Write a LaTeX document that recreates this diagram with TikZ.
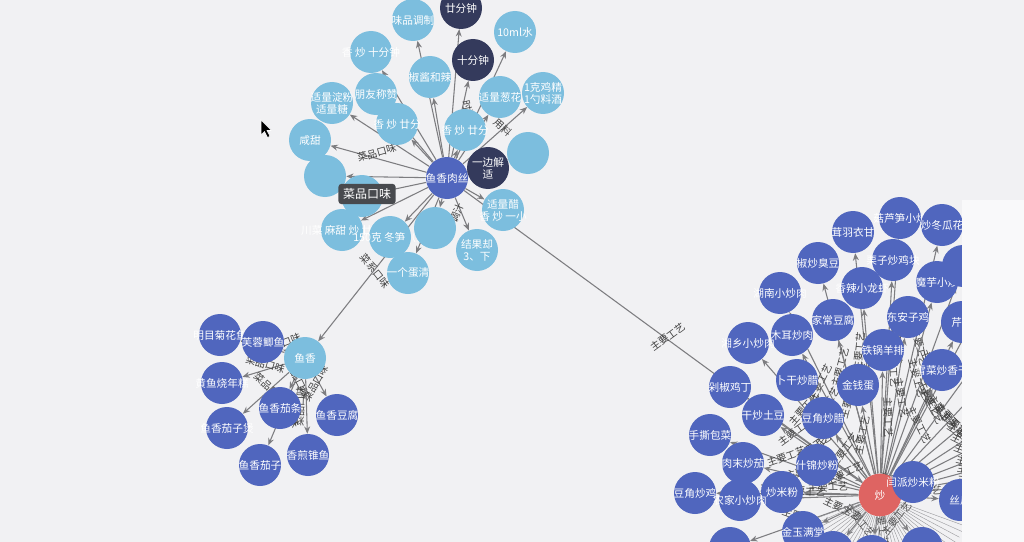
\documentclass[tikz,border=0pt]{standalone}
\usepackage{fontspec}
\setmainfont{Noto Sans CJK SC}
\usetikzlibrary{arrows.meta}

\definecolor{bgGray}{RGB}{241,241,243}
\definecolor{lightBlue}{RGB}{124,190,222}
\definecolor{dishBlue}{RGB}{80,102,190}
\definecolor{navyBlue}{RGB}{52,58,92}
\definecolor{fryRed}{RGB}{222,100,98}
\definecolor{edgeGray}{RGB}{125,125,128}
\definecolor{tipGray}{RGB}{72,74,78}

\pgfdeclarelayer{edgelayer}
\pgfsetlayers{edgelayer,main}

\tikzset{
  ball/.style={circle, inner sep=0pt, minimum size=31.5pt,
    label={[text=white, font=\fontsize{8}{9}\selectfont, align=center]center:#1}},
  lightball/.style={ball={#1}, fill=lightBlue},
  dishball/.style={ball={#1}, fill=dishBlue},
  timeball/.style={ball={#1}, fill=navyBlue},
  link/.style={draw=edgeGray, line width=0.8pt, -{Stealth[length=5.5pt,width=4.5pt]}},
  linktext/.style={font=\fontsize{7.5}{8}\selectfont, text=black!75, sloped, inner sep=1pt},
  tipbox/.style={fill=tipGray, rounded corners=2.5pt, text=white, inner sep=3.5pt,
    font=\fontsize{9}{10}\selectfont},
}

\begin{document}
\begin{tikzpicture}[x=0.75pt,y=0.75pt,yscale=-1,xscale=1]
\useasboundingbox (0,0) rectangle (1024,542);

%Recipe graph: dish in the middle
\node[dishball={鱼香肉丝}] (hub) at (447,178) {};

%Ingredient / step nodes round the dish
\foreach \nm/\px/\py/\tx in {
  t1/413/20/{味品调制}, t2/371/52/{香 炒 十分钟}, t3/430/77/{椒酱和辣},
  t4/376/94/{朋友称赞}, t5/332/103/{适量淀粉\\适量糖}, t6/397/124/{香 炒 廿分},
  t7/465/130/{香 炒 廿分}, t8/310/140/{咸甜}, t9/325/176/{},
  t10/362/196/{}, t11/342/230/{川菜 麻甜 炒 廿分}, t12/390/237/{150克 冬笋（玉},
  t13/435/228/{}, t14/408/273/{一个蛋清}, t15/500/97/{适量葱花},
  t16/543/93/{1克鸡精\\1勺料酒}, t17/515/32/{10ml水}, t18/528/153/{},
  t19/503/210/{适量醋\\香 炒 一小}, t20/477/250/{结果却\\3、下}}
  \node[lightball=\tx] (\nm) at (\px,\py) {};

%Cooking times
\node[timeball={廿分钟}] (d1) at (461,8) {};
\node[timeball={十分钟}] (d2) at (473,60) {};
\node[timeball={一边解\\适}] (d3) at (488,168) {};

%Flavour cluster
\node[lightball={鱼香}] (fish) at (305,358) {};
\foreach \nm/\px/\py/\tx in {
  f1/220/335/{明目菊花鱼}, f2/263/342/{芙蓉鲫鱼}, f3/222/383/{黄鱼烧年糕},
  f4/280/408/{鱼香茄条}, f5/337/415/{鱼香豆腐}, f6/227/428/{鱼香茄子煲},
  f7/308/455/{香煎锥鱼}, f8/260/465/{鱼香茄子}}
  \node[dishball=\tx] (\nm) at (\px,\py) {};

%Technique cluster
\node[circle, fill=fryRed, inner sep=0pt, minimum size=32pt,
  label={[text=white, font=\fontsize{8}{9}\selectfont]center:炒}] (fry) at (880,495) {};
\foreach \nm/\px/\py/\tx in {
  r01/900/218/{菇芦笋小炒}, r02/942/225/{炒冬瓜花}, r03/853/232/{茸羽衣甘},
  r04/818/263/{椒炒臭豆}, r05/893/260/{栗子炒鸡块}, r06/862/288/{香辣小龙虾},
  r07/937/282/{魔芋小炒}, r08/780/293/{湖南小炒肉}, r09/833/320/{家常豆腐},
  r10/908/317/{东安子鸡}, r11/792/335/{木耳炒肉}, r12/748/343/{湘乡小炒肉},
  r13/883/350/{铁锅羊排}, r14/962/322/{芹苔}, r15/797/380/{卜干炒腊},
  r16/858/385/{金钱蛋}, r17/942/370/{雪菜炒香干}, r18/730/387/{剁椒鸡丁},
  r19/763/415/{干炒土豆}, r20/823/418/{豆角炒腊}, r21/710/435/{手撕包菜},
  r22/743/463/{肉末炒茄}, r23/817/465/{什锦炒粉}, r24/913/482/{闫派炒米粉},
  r25/695/493/{豆角炒鸡}, r26/782/492/{炒米粉}, r27/740/500/{农家小炒肉},
  r28/803/532/{金玉满堂}, r29/730/548/{}, r30/960/500/{丝瓜},
  r31/833/552/{}, r32/872/556/{}, r33/922/548/{}, r34/963/266/{}}
  \node[dishball=\tx] (\nm) at (\px,\py) {};

%Tooltip over the flavour edge
\node[tipbox] (tip) at (367,194) {菜品口味};

%Edges
\begin{pgfonlayer}{edgelayer}
\fill[bgGray] (0,0) rectangle (1024,542);
\foreach \nm in {t1,t2,t3,t4,t5,t6,t7,t9,t10,t11,t12,t13,t14,t15,t17,t18,t19,d1,d3}
  \draw[link] (hub) -- (\nm);
\draw[link] (hub) -- node[linktext, above]{菜品口味} (t8);
\draw[link] (hub) -- node[linktext, above, pos=0.6]{时间} (d2);
\draw[link] (hub) -- node[linktext, above, pos=0.55]{用料} (t16);
\draw[link] (hub) -- node[linktext, above, pos=0.55]{调汁} (t20);
\draw[link] (hub) -- node[linktext, above, pos=0.55]{菜系口味} (fish);
\draw[link] (hub) -- node[linktext, above, pos=0.52]{主要工艺} (fry);
\foreach \nm in {f1,f2,f3,f4,f5,f6,f7,f8}
  \draw[link] (fish) -- node[linktext, above, pos=0.5]{菜品口味} (\nm);
\foreach \nm in {r01,r02,r03,r04,r05,r06,r07,r08,r09,r10,r11,r12,r13,r14,r15,r16,r17,
  r18,r19,r20,r21,r22,r23,r24,r25,r26,r27,r28,r29,r30,r31,r32,r33,r34}
  \draw[link] (fry) -- node[linktext, above, pos=0.55]{主要工艺} (\nm);
%fan to dishes outside the view
\foreach \ang in {-62,-54,-47,-40,-33,-27,-21,-15,-10,-5}
  {\path (fry) ++(\ang:190) coordinate (up\ang);
   \draw[link] (fry) -- node[linktext, above, pos=0.45]{主要工艺} (up\ang);}
\foreach \ang in {20,24,...,160}
  {\path (fry) ++(\ang:90) coordinate (dn\ang);
   \draw[edgeGray!80, line width=0.3pt] (fry) -- (dn\ang);}
\end{pgfonlayer}

%Right side of the window
\fill[white!60!bgGray] (962,200) rectangle (1024,542);

%Mouse pointer
\filldraw[fill=black, draw=white, line width=0.4pt] (261,120) -- (261,135) -- (264.5,131.5)
  -- (267.5,137.5) -- (270,136.3) -- (267,130.5) -- (271.5,130.5) -- cycle;

\end{tikzpicture}
\end{document}
